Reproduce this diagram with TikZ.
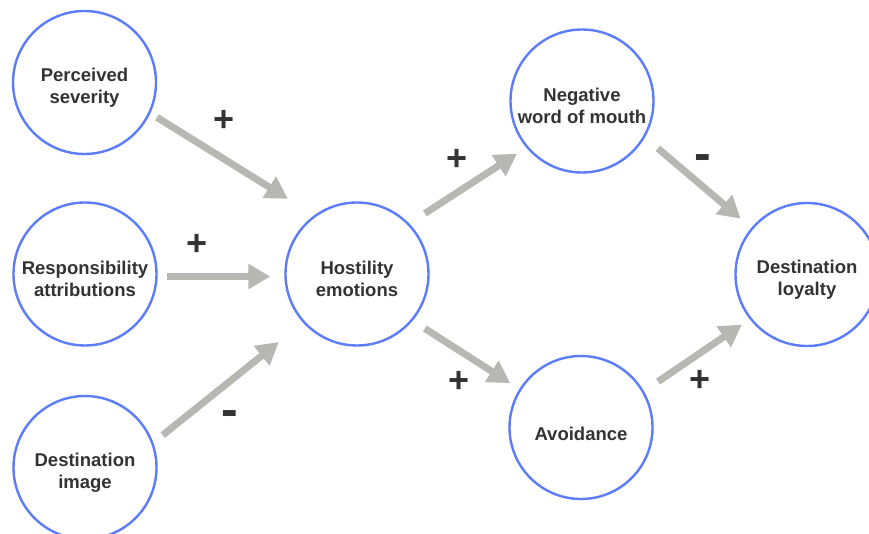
\documentclass[tikz,border=0pt]{standalone}
\usepackage{fontspec}
\setmainfont{Liberation Sans}
\usetikzlibrary{arrows.meta}
\definecolor{ringblue}{HTML}{5C7CFA}
\definecolor{linkgray}{HTML}{B8B8B2}
\definecolor{inkgray}{HTML}{333333}
\tikzset{
  factor/.style={circle, draw=ringblue, line width=2.4pt, minimum size=143pt, inner sep=0pt,
    align=center, text=inkgray, font=\fontsize{18.5}{22}\selectfont\bfseries,
    text height=46pt},
  link/.style={-{Triangle[length=22pt,width=24pt]}, draw=linkgray, line width=7pt},
  possign/.style={text=inkgray, inner sep=0pt, font=\fontsize{36}{36}\selectfont\bfseries},
  negsign/.style={text=inkgray, inner sep=0pt, font=\fontsize{50}{50}\selectfont\bfseries},
}
\begin{document}
\begin{tikzpicture}[x=1pt, y=-1pt]
            \fill[white] (0,0) rectangle (869,534);
            \useasboundingbox (0,0) rectangle (869,534);
            % constructs
            \node[factor] (ps) at (84.5,82.5) {Perceived\\severity};
            \node[factor] (ra) at (85,274) {Responsibility\\attributions};
            \node[factor] (di) at (85,467.5) {Destination\\image};
            \node[factor] (he) at (357,274) {Hostility\\emotions};
            \node[factor] (nw) at (582,101) {Negative\\word of mouth};
            \node[factor, text height=27pt] (av) at (581,427.5) {Avoidance};
            \node[factor] (dl) at (807,274.5) {Destination\\loyalty};
            
            % paths between the constructs
            \draw[link, shorten <=7.8pt, shorten >=31pt] (ps.-25.5) -- (he.126.6);
            \draw[link, shorten <=9pt, shorten >=14pt] (ra.-2.4) -- (he.182.4);
            \draw[link, shorten <=12pt, shorten >=31pt] (di.20) -- (he.222.8);
            \draw[link, shorten <=18.6pt, shorten >=11pt] (he.44.2) -- (nw.220.2);
            \draw[link, shorten <=14.5pt, shorten >=10.8pt] (he.-40.3) -- (av.148);
            \draw[link, shorten <=17pt, shorten >=14pt] (nw.-30.4) -- (dl.140.5);
            \draw[link, shorten <=17pt, shorten >=9.4pt] (av.30.5) -- (dl.218.4);
            
            % signs of the paths
            \node[possign] (s1) at (224,121) {+};
            \node[possign] (s2) at (197,245) {+};
            \node[negsign] (s3) at (230,419) {-};
            \node[possign] (s4) at (457,160) {+};
            \node[possign] (s5) at (459,382) {+};
            \node[negsign] (s6) at (703,163) {-};
            \node[possign] (s7) at (700,381) {+};
        \end{tikzpicture}
\end{document}
